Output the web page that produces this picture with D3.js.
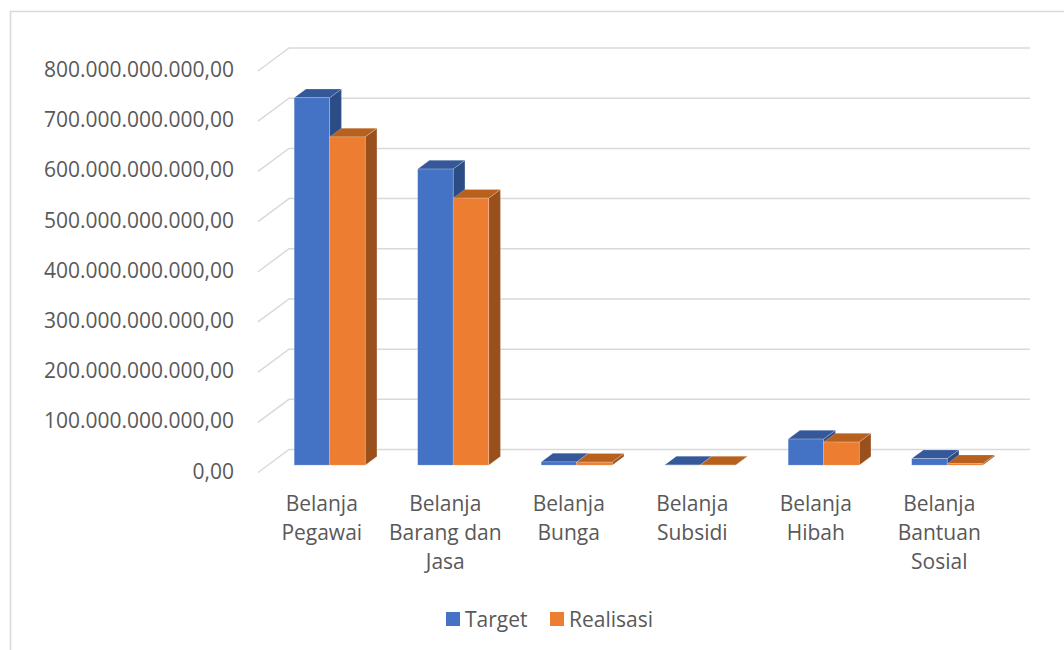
<!DOCTYPE html>
<html>
<head>
<meta charset="utf-8">
<script src="https://cdn.jsdelivr.net/npm/d3@7"></script>
<style>
  html, body { margin: 0; padding: 0; background: #fff; }
  svg { display: block; }
  text { font-family: "Open Sans", "Noto Sans", sans-serif; fill: #595959; }
</style>
</head>
<body>
<svg id="chart" width="1064" height="650"></svg>
<script>
// Belanja categories and the two series (Rupiah)
const categories = [
  "Belanja Pegawai",
  "Belanja Barang dan Jasa",
  "Belanja Bunga",
  "Belanja Subsidi",
  "Belanja Hibah",
  "Belanja Bantuan Sosial"
];
const seriesNames = ["Target", "Realisasi"];
const targetValues    = [732e9, 590e9, 6.5e9, 0.5e9, 52e9, 13e9];
const realisasiValues = [654e9, 532e9, 6e9,   0.3e9, 46e9, 3e9];
const yTicks = [0, 100e9, 200e9, 300e9, 400e9, 500e9, 600e9, 700e9, 800e9];

const colors = {
  Target:    { front: "#4472C4", top: "#34589A", side: "#2C4C86" },
  Realisasi: { front: "#ED7D31", top: "#B8611F", side: "#9A501D" }
};

const svg = d3.select("#chart");

// chart frame
svg.append("rect")
  .attr("x", 10.5).attr("y", 11.5)
  .attr("width", 1070).attr("height", 660)
  .attr("fill", "#fff").attr("stroke", "#d9d9d9").attr("stroke-width", 1.5);

// back wall geometry, and depth offset from back wall to front edge
const DX = 31, DY = 23;
const x = d3.scaleBand().domain(categories).range([289, 1030]);
const y = d3.scaleLinear().domain([0, 800e9]).range([449.5, 48]);
// shift a point that sits at depth fraction f (0 = front, 1 = back wall)
const shift = f => [-DX * (1 - f), DY * (1 - f)];

const idLocale = d3.formatLocale({ decimal: ",", thousands: ".", grouping: [3], currency: ["Rp", ""] });
const fmt = idLocale.format(",.2f");

// gridlines: back wall line plus the receding line on the left side wall
const grid = svg.append("g").attr("stroke", "#d9d9d9").attr("stroke-width", 1.5).attr("fill", "none");
yTicks.forEach(t => {
  const yb = y(t);
  const [sx, sy] = shift(0);
  grid.append("path")
    .attr("d", `M${x.range()[0] + sx},${yb + sy}L${x.range()[0]},${yb}L${x.range()[1]},${yb}`);
});

// value labels on the y axis
svg.append("g").selectAll("text").data(yTicks).join("text")
  .attr("x", 234)
  .attr("y", d => y(d) + 21)
  .attr("text-anchor", "end")
  .attr("dominant-baseline", "central")
  .style("font-size", "21px")
  .text(d => fmt(d));

// 3D columns
const F1 = 0.32, F2 = 0.70;           // depth of column front and back faces
const groupFrac = 0.575;               // share of each category band used by the pair
const [fx, fy] = shift(F1);
const ddx = DX * (F2 - F1), ddy = DY * (F2 - F1);
const xs = d3.scaleBand().domain(seriesNames).range([0, x.bandwidth() * groupFrac]);

const data = categories.map((c, i) => ({ cat: c, values: [
  { s: "Target", v: targetValues[i] },
  { s: "Realisasi", v: realisasiValues[i] }
]}));

const bars = svg.append("g");
data.forEach(d => {
  const left = x(d.cat) + (x.bandwidth() - x.bandwidth() * groupFrac) / 2 + fx;
  d.values.forEach(b => {
    const x0 = left + xs(b.s), x1 = x0 + xs.bandwidth();
    const y0 = y(0) + fy, y1 = y(b.v) + fy;
    const c = colors[b.s];
    const g = bars.append("g").attr("stroke-width", 0.6).attr("stroke-opacity", 0.35).attr("stroke", "#fff");
    // side face
    g.append("path").attr("fill", c.side)
      .attr("d", `M${x1},${y0}L${x1 + ddx},${y0 - ddy}L${x1 + ddx},${y1 - ddy}L${x1},${y1}Z`);
    // top face
    g.append("path").attr("fill", c.top)
      .attr("d", `M${x0},${y1}L${x0 + ddx},${y1 - ddy}L${x1 + ddx},${y1 - ddy}L${x1},${y1}Z`);
    // front face
    g.append("rect").attr("fill", c.front)
      .attr("x", x0).attr("y", y1).attr("width", x1 - x0).attr("height", y0 - y1);
  });
});

// category labels, wrapped to the band width
const [lx] = shift(0);
const catLabels = svg.append("g").selectAll("text").data(categories).join("text")
  .attr("text-anchor", "middle")
  .style("font-size", "21px")
  .each(function (d) {
    const t = d3.select(this);
    const cx = x(d) + x.bandwidth() / 2 + lx + 2;
    const words = d.split(" ");
    let lines = [], cur = [];
    const probe = t.append("tspan");
    words.forEach(w => {
      const test = cur.concat([w]).join(" ");
      probe.text(test);
      if (cur.length && probe.node().getComputedTextLength() > 118) {
        lines.push(cur.join(" "));
        cur = [w];
      } else cur.push(w);
    });
    lines.push(cur.join(" "));
    probe.remove();
    lines.forEach((ln, i) => {
      t.append("tspan").attr("x", cx).attr("y", 503 + i * 29)
        .attr("dominant-baseline", "central").text(ln);
    });
  });

// legend
const legend = svg.append("g");
const legendX = [446, 550];
seriesNames.forEach((s, i) => {
  legend.append("rect").attr("x", legendX[i]).attr("y", 612).attr("width", 14).attr("height", 14)
    .attr("fill", colors[s].front);
  legend.append("text").attr("x", legendX[i] + 19).attr("y", 619)
    .attr("dominant-baseline", "central").style("font-size", "21px").text(s);
});
</script>
</body>
</html>
